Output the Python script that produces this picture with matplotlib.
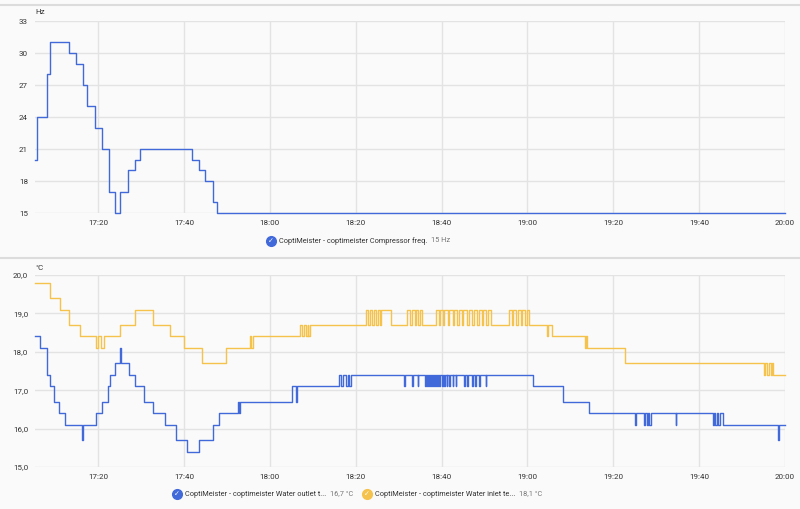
import matplotlib.pyplot as plt
from matplotlib.lines import Line2D

plt.rcParams['font.family'] = ['Roboto', 'DejaVu Sans']

# minutes after 17:00
tick_pos = [20, 40, 60, 80, 100, 120, 140, 160, 180]
tick_labels = ["17:20", "17:40", "18:00", "18:20", "18:40", "19:00", "19:20", "19:40", "20:00"]

freq_t = [5.3, 5.7, 8.2, 8.8, 13.3, 14.8, 16.4, 17.5, 19.3, 20.9, 22.5, 24.0, 25.2, 26.9,
          28.6, 29.8, 41.9, 43.4, 45.0, 46.7, 47.8, 180]
freq_v = [20, 24, 28, 31, 30, 29, 27, 25, 23, 21, 17, 15, 17, 19,
          20, 21, 20, 19, 18, 16, 15, 15]

inlet_t = [5.3, 8.8, 11.2, 13.2, 15.8, 19.4, 19.9, 20.6, 21.4, 25.1, 28.5, 32.9, 36.7, 39.9,
           44.1, 49.9, 55.3, 55.5, 56.1,
           67.1, 67.5, 68.0, 68.4, 68.8, 69.0, 69.4,
           82.5, 82.9, 83.3, 83.9, 84.2, 84.8, 85.1, 85.6, 86.0, 88.3,
           92.0, 92.6, 93.0, 93.7, 94.0, 94.6, 94.9, 95.5,
           98.8, 99.3, 99.6, 100.3, 100.6, 101.5, 101.8, 102.6, 103.0, 103.6, 104.0, 104.7,
           105.0, 106.0, 106.3, 107.2, 107.5, 108.3, 108.7, 109.4, 109.7, 110.4, 110.8, 111.6,
           115.8, 116.3, 116.6, 117.3, 117.7, 118.4, 118.8, 119.5, 119.8, 120.4,
           124.6, 124.9, 125.8, 133.5, 133.7, 133.9, 142.8,
           175.0, 175.4, 175.9, 176.3, 176.7, 176.9, 177.2, 180]
inlet_v = [19.8, 19.4, 19.1, 18.7, 18.4, 18.1, 18.4, 18.1, 18.4, 18.7, 19.1, 18.7, 18.4, 18.1,
           17.7, 18.1, 18.4, 18.1, 18.4,
           18.7, 18.4, 18.7, 18.4, 18.7, 18.4, 18.7,
           19.1, 18.7, 19.1, 18.7, 19.1, 18.7, 19.1, 18.7, 19.1, 18.7,
           19.1, 18.7, 19.1, 18.7, 19.1, 18.7, 19.1, 18.7,
           19.1, 18.7, 19.1, 18.7, 19.1, 18.7, 19.1, 18.7, 19.1, 18.7, 19.1, 18.7,
           19.1, 18.7, 19.1, 18.7, 19.1, 18.7, 19.1, 18.7, 19.1, 18.7, 19.1, 18.7,
           19.1, 18.7, 19.1, 18.7, 19.1, 18.7, 19.1, 18.7, 19.1, 18.7,
           18.4, 18.7, 18.4, 18.1, 18.4, 18.1, 17.7,
           17.4, 17.7, 17.4, 17.7, 17.4, 17.7, 17.4, 17.4]

outlet_t = [5.3, 6.4, 8.1, 8.8, 9.7, 10.9, 12.3, 16.2, 16.4, 19.4, 20.9, 22.4, 22.8, 24.0,
            25.0, 25.3, 27.3, 28.6, 30.6, 32.9, 35.6, 38.2, 40.7, 43.5, 46.7, 48.1,
            52.6, 52.8, 53.0, 65.2, 66.1, 66.3,
            76.0, 76.6, 77.0, 77.8, 78.1, 78.5, 78.8,
            91.3, 91.45, 93.1, 93.25, 94.4, 94.55, 96.2, 96.35, 96.7, 96.85, 97.1, 97.25,
            97.6, 97.75, 98.1, 98.25, 98.5, 98.65, 99.0, 99.15, 99.5, 99.65, 100.1, 100.25,
            100.6, 100.75, 101.2, 101.35, 101.8, 101.95, 102.6, 102.75, 103.3, 103.45,
            105.3, 105.45, 105.9, 106.05, 107.2, 107.35, 107.8, 107.95, 108.8, 108.95,
            110.3, 110.45, 121.4, 128.3, 134.3,
            145.0, 145.2, 147.1, 147.5, 147.9, 148.2, 148.4, 148.7, 154.5, 154.7,
            163.2, 163.5, 163.8, 164.1, 164.5, 164.9, 165.6, 178.3, 178.5, 180]
outlet_v = [18.4, 18.1, 17.4, 17.1, 16.7, 16.4, 16.1, 15.7, 16.1, 16.4, 16.7, 17.1, 17.4, 17.7,
            18.1, 17.7, 17.4, 17.1, 16.7, 16.4, 16.1, 15.7, 15.4, 15.7, 16.1, 16.4,
            16.7, 16.4, 16.7, 17.1, 16.7, 17.1,
            17.4, 17.1, 17.4, 17.1, 17.4, 17.1, 17.4,
            17.1, 17.4, 17.1, 17.4, 17.1, 17.4, 17.1, 17.4, 17.1, 17.4, 17.1, 17.4,
            17.1, 17.4, 17.1, 17.4, 17.1, 17.4, 17.1, 17.4, 17.1, 17.4, 17.1, 17.4,
            17.1, 17.4, 17.1, 17.4, 17.1, 17.4, 17.1, 17.4, 17.1, 17.4,
            17.1, 17.4, 17.1, 17.4, 17.1, 17.4, 17.1, 17.4, 17.1, 17.4,
            17.1, 17.4, 17.1, 16.7, 16.4,
            16.1, 16.4, 16.1, 16.4, 16.1, 16.4, 16.1, 16.4, 16.1, 16.4,
            16.1, 16.4, 16.1, 16.4, 16.1, 16.4, 16.1, 15.7, 16.1, 16.1]

blue = '#4169d9'
yellow = '#f5c24c'
grid_c = '#e3e3e3'
txt_c = '#333333'
bg = '#fafafa'

fig = plt.figure(figsize=(8, 5.09), dpi=100, facecolor=bg)
ax1 = fig.add_axes([0.04375, 0.5815, 0.9375, 0.3772])
ax2 = fig.add_axes([0.04375, 0.0825, 0.9375, 0.3772])

ax1.step(freq_t, freq_v, where='post', color=blue, lw=1.0, clip_on=False)
ax2.step(inlet_t, inlet_v, where='post', color=yellow, lw=1.0, clip_on=False)
ax2.step(outlet_t, outlet_v, where='post', color=blue, lw=1.0, clip_on=False)

ax1.set_ylim(15, 33)
ax1.set_yticks([15, 18, 21, 24, 27, 30, 33])
ax2.set_ylim(15, 20)
ax2.set_yticks([15, 16, 17, 18, 19, 20])
ax2.set_yticklabels(["15,0", "16,0", "17,0", "18,0", "19,0", "20,0"])

for ax in (ax1, ax2):
    ax.set_facecolor(bg)
    ax.set_xlim(5.3, 180)
    ax.set_xticks(tick_pos)
    ax.set_xticklabels(tick_labels)
    ax.grid(True, color=grid_c, lw=1)
    ax.set_axisbelow(True)
    for s in ax.spines.values():
        s.set_visible(False)
    ax.tick_params(length=0, labelsize=5.8, colors=txt_c, pad=5)

fig.text(35 / 800, 1 - 12 / 509, "Hz", fontsize=5.8, color=txt_c, va='center')
fig.text(35 / 800, 1 - 268 / 509, "°C", fontsize=5.8, color=txt_c, va='center')

# panel borders
fig.add_artist(Line2D([0, 1], [1 - 5 / 509, 1 - 5 / 509], color='#dcdcdc', lw=1.5))
fig.add_artist(Line2D([0, 1], [1 - 258 / 509, 1 - 258 / 509], color='#dcdcdc', lw=1.5))

renderer = fig.canvas.get_renderer()


def legend_item(x, y, color, label, value):
    fy = 1 - y / 509
    fig.add_artist(Line2D([x / 800], [fy], marker='o', ms=7, color=color, mec=color))
    fig.text(x / 800, fy, "✓", color='white', fontsize=5, ha='center', va='center',
             fontweight='bold', family=['DejaVu Sans'])
    t = fig.text((x + 8) / 800, fy, label, fontsize=5.3, color=txt_c, va='center')
    bb = t.get_window_extent(renderer)
    fig.text((bb.x1 + 4) / 800, fy, value, fontsize=5.3, color='#777777', va='center')


legend_item(271, 241, blue, "CoptiMeister - coptimeister Compressor freq.", "15 Hz")
legend_item(177, 494, blue, "CoptiMeister - coptimeister Water outlet t...", "16,7 °C")
legend_item(367, 494, yellow, "CoptiMeister - coptimeister Water inlet te...", "18,1 °C")

fig.savefig('out.png', dpi=100, facecolor=bg)
